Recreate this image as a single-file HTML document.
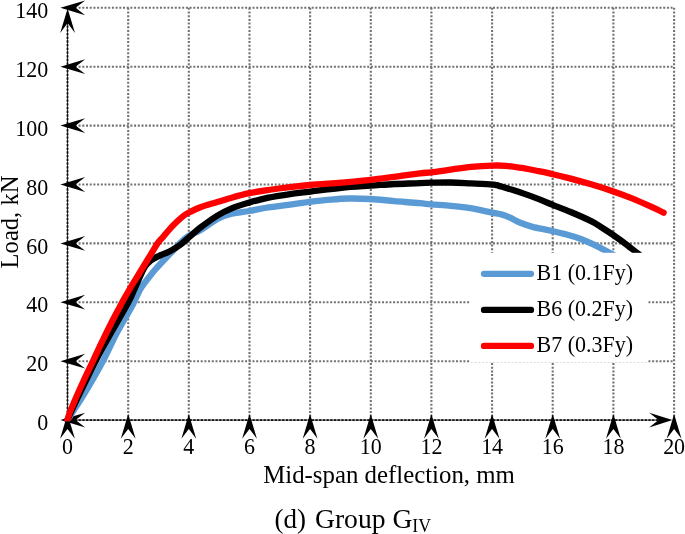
<!DOCTYPE html>
<html><head><meta charset="utf-8"><title>Group GIV</title>
<style>
html,body{margin:0;padding:0;background:#fff;}
svg{display:block;font-family:"Liberation Serif",serif;fill:#000;}
.g line{stroke:#727272;stroke-width:2.1;stroke-dasharray:2 1.7;}
.ax{stroke:#222;stroke-width:0.9;fill:none;}
.ad{stroke:#111;stroke-width:1.85;stroke-dasharray:2.3 1.4;fill:none;}
.c{fill:none;stroke-width:6.3;stroke-linecap:round;stroke-linejoin:round;}
.t{font-size:22px;}
</style></head><body>
<svg width="685" height="534" viewBox="0 0 685 534">
<defs><clipPath id="cp"><rect x="0" y="0" width="685" height="253"/><rect x="0" y="253" width="470" height="168.2"/></clipPath></defs>
<rect width="685" height="534" fill="#fff"/>
<g class="g">
<line x1="67.5" y1="361.2" x2="674.1" y2="361.2"/>
<line x1="67.5" y1="302.2" x2="674.1" y2="302.2"/>
<line x1="67.5" y1="243.4" x2="674.1" y2="243.4"/>
<line x1="67.5" y1="184.5" x2="674.1" y2="184.5"/>
<line x1="67.5" y1="125.6" x2="674.1" y2="125.6"/>
<line x1="67.5" y1="66.7" x2="674.1" y2="66.7"/>
<line x1="67.5" y1="7.8" x2="674.1" y2="7.8"/>
<line x1="128.2" y1="7.8" x2="128.2" y2="420.1"/>
<line x1="188.8" y1="7.8" x2="188.8" y2="420.1"/>
<line x1="249.5" y1="7.8" x2="249.5" y2="420.1"/>
<line x1="310.1" y1="7.8" x2="310.1" y2="420.1"/>
<line x1="370.8" y1="7.8" x2="370.8" y2="420.1"/>
<line x1="431.4" y1="7.8" x2="431.4" y2="420.1"/>
<line x1="492.1" y1="7.8" x2="492.1" y2="420.1"/>
<line x1="552.7" y1="7.8" x2="552.7" y2="420.1"/>
<line x1="613.4" y1="7.8" x2="613.4" y2="420.1"/>
<line x1="674.1" y1="7.8" x2="674.1" y2="420.1"/>
</g>
<line class="ax" x1="67.50" y1="420.05" x2="67.50" y2="20"/>
<line class="ax" x1="67.50" y1="420.05" x2="660" y2="420.05"/>
<line class="ad" x1="67.50" y1="420.05" x2="67.50" y2="20"/>
<line class="ad" x1="67.50" y1="420.05" x2="660" y2="420.05"/>
<g>
<path d="M0 0 L24.8 -7.4 L15.2 0 L24.8 7.4 Z" transform="translate(60.4 420.1)"/>
<path d="M0 0 L24.8 -7.4 L15.2 0 L24.8 7.4 Z" transform="translate(60.4 361.2)"/>
<path d="M0 0 L24.8 -7.4 L15.2 0 L24.8 7.4 Z" transform="translate(60.4 302.2)"/>
<path d="M0 0 L24.8 -7.4 L15.2 0 L24.8 7.4 Z" transform="translate(60.4 243.4)"/>
<path d="M0 0 L24.8 -7.4 L15.2 0 L24.8 7.4 Z" transform="translate(60.4 184.5)"/>
<path d="M0 0 L24.8 -7.4 L15.2 0 L24.8 7.4 Z" transform="translate(60.4 125.6)"/>
<path d="M0 0 L24.8 -7.4 L15.2 0 L24.8 7.4 Z" transform="translate(60.4 66.7)"/>
<path d="M0 0 L24.8 -7.4 L15.2 0 L24.8 7.4 Z" transform="translate(60.4 7.8)"/>
<path d="M0 0 L24.8 -7.4 L15.2 0 L24.8 7.4 Z" transform="translate(67.5 413.9) rotate(90)"/>
<path d="M0 0 L24.8 -7.4 L15.2 0 L24.8 7.4 Z" transform="translate(128.2 413.9) rotate(90)"/>
<path d="M0 0 L24.8 -7.4 L15.2 0 L24.8 7.4 Z" transform="translate(188.8 413.9) rotate(90)"/>
<path d="M0 0 L24.8 -7.4 L15.2 0 L24.8 7.4 Z" transform="translate(249.5 413.9) rotate(90)"/>
<path d="M0 0 L24.8 -7.4 L15.2 0 L24.8 7.4 Z" transform="translate(310.1 413.9) rotate(90)"/>
<path d="M0 0 L24.8 -7.4 L15.2 0 L24.8 7.4 Z" transform="translate(370.8 413.9) rotate(90)"/>
<path d="M0 0 L24.8 -7.4 L15.2 0 L24.8 7.4 Z" transform="translate(431.4 413.9) rotate(90)"/>
<path d="M0 0 L24.8 -7.4 L15.2 0 L24.8 7.4 Z" transform="translate(492.1 413.9) rotate(90)"/>
<path d="M0 0 L24.8 -7.4 L15.2 0 L24.8 7.4 Z" transform="translate(552.7 413.9) rotate(90)"/>
<path d="M0 0 L24.8 -7.4 L15.2 0 L24.8 7.4 Z" transform="translate(613.4 413.9) rotate(90)"/>
<path d="M0 0 L24.8 -7.4 L15.2 0 L24.8 7.4 Z" transform="translate(674.1 413.9) rotate(90)"/>
<path d="M0 0 L24.4 -7.4 L14.6 0 L24.4 7.4 Z" transform="translate(67.6 8.5) rotate(90)"/>
<path d="M0 0 L23.3 -7.4 L14 0 L23.3 7.4 Z" transform="translate(672.5 420.1) rotate(180)"/>
</g>
<g clip-path="url(#cp)">
<path class="c" stroke="#5b9bd5" d="M67.4 420.0 C70.0 416.0 77.1 405.8 83.0 396.0 C88.9 386.2 97.3 371.7 103.0 361.0 C108.7 350.3 112.6 340.8 117.3 332.0 C122.0 323.2 128.3 313.0 131.1 308.0 C133.9 303.0 132.5 305.3 134.2 302.0 C135.8 298.7 138.1 292.7 141.0 288.0 C143.9 283.3 148.8 277.5 151.5 274.0 C154.2 270.5 155.2 269.5 157.5 267.0 C159.8 264.5 162.3 261.8 165.0 259.0 C167.7 256.2 170.9 252.8 173.5 250.0 C176.1 247.2 178.2 244.8 180.7 242.5 C183.2 240.2 185.2 238.1 188.6 236.0 C192.0 233.9 196.3 232.6 201.1 229.8 C205.9 227.0 212.3 221.6 217.4 218.9 C222.5 216.3 226.4 215.1 231.7 213.8 C237.0 212.5 243.2 212.1 249.3 211.0 C255.4 209.9 261.7 208.4 268.5 207.4 C275.3 206.3 283.1 205.6 290.0 204.6 C296.9 203.7 303.1 202.6 310.0 201.8 C316.9 201.0 324.5 200.1 331.1 199.6 C337.7 199.0 342.9 198.6 349.5 198.5 C356.1 198.4 363.2 198.6 370.7 199.0 C378.2 199.4 386.2 200.4 394.4 201.1 C402.6 201.8 413.9 202.6 420.0 203.2 C426.1 203.8 426.2 204.0 431.3 204.4 C436.4 204.8 445.2 205.3 450.9 205.8 C456.5 206.3 460.4 206.7 465.2 207.4 C470.0 208.1 475.0 209.0 479.5 209.9 C484.0 210.8 488.2 211.8 492.0 212.6 C495.8 213.4 499.0 213.8 502.0 214.6 C505.0 215.4 507.0 216.3 510.1 217.7 C513.2 219.1 516.6 221.3 520.4 222.8 C524.1 224.3 527.7 225.6 532.6 226.9 C537.5 228.2 544.3 229.2 550.0 230.5 C555.7 231.8 561.5 233.1 566.6 234.5 C571.8 235.9 576.4 237.3 580.9 239.0 C585.4 240.7 588.9 242.3 593.8 244.7 C598.7 247.1 605.1 250.4 610.5 253.3 C615.9 256.2 623.4 260.6 626.0 262.0"/>
<path class="c" stroke="#000" d="M67.4 420.0 C69.2 416.0 73.8 405.8 78.5 396.0 C83.2 386.2 90.1 371.7 95.6 361.0 C101.1 350.3 106.0 341.8 111.5 332.0 C117.0 322.2 124.7 309.2 128.5 302.0 C132.3 294.8 132.0 294.4 134.5 289.0 C137.0 283.6 141.1 273.8 143.5 269.3 C145.9 264.8 147.2 263.9 149.0 262.0 C150.8 260.1 152.7 259.3 154.5 258.2 C156.3 257.1 157.3 256.7 160.0 255.5 C162.7 254.3 167.1 252.8 170.4 251.0 C173.7 249.2 177.0 247.2 180.0 245.0 C183.0 242.8 185.1 240.6 188.6 237.6 C192.1 234.6 196.3 230.8 201.1 227.1 C205.9 223.4 212.3 218.7 217.4 215.6 C222.5 212.4 226.4 210.5 231.7 208.3 C237.0 206.1 243.2 204.3 249.3 202.5 C255.4 200.7 261.7 199.0 268.5 197.6 C275.3 196.2 283.1 195.1 290.0 194.1 C296.9 193.1 301.4 192.7 310.0 191.6 C318.6 190.6 331.2 188.8 341.3 187.8 C351.4 186.8 361.9 186.3 370.7 185.7 C379.5 185.1 386.2 184.4 394.4 184.0 C402.6 183.6 413.9 183.4 420.0 183.1 C426.1 182.9 426.2 182.8 431.3 182.7 C436.4 182.6 444.2 182.4 450.9 182.5 C457.6 182.6 464.8 183.1 471.3 183.4 C477.8 183.8 485.8 184.0 490.0 184.3 C494.2 184.6 494.6 184.7 496.5 185.1 C498.4 185.5 498.9 185.8 501.5 186.6 C504.1 187.4 508.4 188.6 512.2 189.8 C516.0 191.0 520.1 192.3 524.5 193.9 C528.9 195.4 534.1 197.3 538.8 199.1 C543.5 201.0 547.4 202.8 552.7 204.9 C558.0 207.0 564.3 209.3 570.7 212.0 C577.1 214.7 586.0 218.6 591.1 221.1 C596.2 223.6 597.6 224.9 601.3 227.2 C605.0 229.5 609.1 232.1 613.4 235.1 C617.7 238.1 622.8 241.8 627.0 245.0 C631.2 248.2 633.9 250.5 638.6 254.1 C643.3 257.7 652.3 264.7 655.0 266.8"/>
<path class="c" stroke="#ff0000" d="M67.4 420.0 C67.7 419.0 68.7 415.8 69.3 414.0 C69.9 412.2 70.2 411.3 71.2 409.0 C72.2 406.7 73.0 404.7 75.0 400.0 C77.0 395.3 80.5 387.5 83.5 381.0 C86.5 374.5 90.4 366.5 93.0 361.0 C95.6 355.5 96.9 352.5 99.0 348.0 C101.1 343.5 103.6 338.5 105.8 334.0 C108.0 329.5 110.1 325.3 112.3 321.0 C114.5 316.7 117.5 311.2 119.2 308.0 C120.9 304.8 120.4 305.3 122.3 302.0 C124.2 298.7 127.5 292.7 130.3 288.0 C133.1 283.3 136.0 278.8 138.9 274.0 C141.8 269.2 144.8 264.2 148.0 259.0 C151.2 253.8 155.3 246.7 157.8 243.0 C160.3 239.3 161.3 239.0 163.0 237.0 C164.7 235.0 166.3 232.9 168.0 231.0 C169.7 229.1 171.2 227.3 173.0 225.5 C174.8 223.7 176.9 221.7 178.7 220.0 C180.5 218.3 182.1 216.8 184.0 215.5 C185.9 214.2 187.2 213.4 190.0 212.0 C192.8 210.6 196.5 208.6 201.1 207.0 C205.7 205.3 212.3 203.6 217.4 202.0 C222.5 200.5 226.4 199.2 231.7 197.7 C237.0 196.2 243.2 194.5 249.3 193.2 C255.4 191.9 261.7 191.0 268.5 190.0 C275.3 189.0 283.1 188.0 290.0 187.2 C296.9 186.4 301.4 185.8 310.0 185.0 C318.6 184.2 331.2 183.5 341.3 182.7 C351.4 181.8 361.9 180.9 370.7 179.9 C379.5 178.9 386.2 177.9 394.4 176.8 C402.6 175.7 413.9 174.2 420.0 173.4 C426.1 172.6 426.2 172.9 431.3 172.3 C436.4 171.7 444.2 170.5 450.9 169.6 C457.6 168.7 464.4 167.6 471.3 166.9 C478.2 166.3 486.2 165.8 492.0 165.6 C497.8 165.4 500.7 165.4 506.1 165.9 C511.5 166.4 519.0 167.5 524.5 168.3 C530.0 169.2 534.1 170.2 538.8 171.2 C543.5 172.1 547.4 173.0 552.7 174.2 C558.0 175.4 564.3 176.9 570.7 178.6 C577.1 180.3 584.0 182.2 591.1 184.3 C598.2 186.4 606.6 189.1 613.4 191.4 C620.2 193.7 625.8 195.8 632.0 198.3 C638.2 200.8 645.1 203.9 650.4 206.3 C655.7 208.7 661.4 211.6 663.6 212.6"/>
</g>
<rect x="469.8" y="252.8" width="178.4" height="109.25" fill="#fff"/>
<g class="c">
<line x1="484" y1="273.8" x2="531" y2="273.8" stroke="#5b9bd5"/>
<line x1="484" y1="309.9" x2="531" y2="309.9" stroke="#000"/>
<line x1="484" y1="345.9" x2="531" y2="345.9" stroke="#ff0000"/>
</g>
<g class="t">
<text transform="translate(536.6 279.6) scale(1 1.05)">B1 (0.1Fy)</text>
<text transform="translate(536.6 315.7) scale(1 1.05)">B6 (0.2Fy)</text>
<text transform="translate(536.6 351.8) scale(1 1.05)">B7 (0.3Fy)</text>
<text transform="translate(48.2 430.2) scale(0.955 1.045)" text-anchor="end" font-size="23">0</text>
<text transform="translate(48.2 371.3) scale(0.955 1.045)" text-anchor="end" font-size="23">20</text>
<text transform="translate(48.2 312.4) scale(0.955 1.045)" text-anchor="end" font-size="23">40</text>
<text transform="translate(48.2 253.5) scale(0.955 1.045)" text-anchor="end" font-size="23">60</text>
<text transform="translate(48.2 194.6) scale(0.955 1.045)" text-anchor="end" font-size="23">80</text>
<text transform="translate(48.2 135.7) scale(0.955 1.045)" text-anchor="end" font-size="23">100</text>
<text transform="translate(48.2 76.8) scale(0.955 1.045)" text-anchor="end" font-size="23">120</text>
<text transform="translate(48.2 17.9) scale(0.955 1.045)" text-anchor="end" font-size="23">140</text>
<text transform="translate(67.5 453.5) scale(0.955 1.045)" text-anchor="middle" font-size="23">0</text>
<text transform="translate(128.2 453.5) scale(0.955 1.045)" text-anchor="middle" font-size="23">2</text>
<text transform="translate(188.8 453.5) scale(0.955 1.045)" text-anchor="middle" font-size="23">4</text>
<text transform="translate(249.5 453.5) scale(0.955 1.045)" text-anchor="middle" font-size="23">6</text>
<text transform="translate(310.1 453.5) scale(0.955 1.045)" text-anchor="middle" font-size="23">8</text>
<text transform="translate(370.8 453.5) scale(0.955 1.045)" text-anchor="middle" font-size="23">10</text>
<text transform="translate(431.4 453.5) scale(0.955 1.045)" text-anchor="middle" font-size="23">12</text>
<text transform="translate(492.1 453.5) scale(0.955 1.045)" text-anchor="middle" font-size="23">14</text>
<text transform="translate(552.7 453.5) scale(0.955 1.045)" text-anchor="middle" font-size="23">16</text>
<text transform="translate(613.4 453.5) scale(0.955 1.045)" text-anchor="middle" font-size="23">18</text>
<text transform="translate(674.1 453.5) scale(0.955 1.045)" text-anchor="middle" font-size="23">20</text>
</g>
<text transform="translate(389 482.7) scale(1 1.035)" text-anchor="middle" font-size="24.85">Mid-span deflection, mm</text>
<text transform="translate(18.4 222) rotate(-90) scale(1 1.035)" text-anchor="middle" font-size="24.6">Load, kN</text>
<text y="528" font-size="27"><tspan x="274.6">(d)</tspan><tspan x="315" font-size="27.6">Group G</tspan><tspan font-size="17.8" dy="4">IV</tspan></text>
</svg>
</body></html>
